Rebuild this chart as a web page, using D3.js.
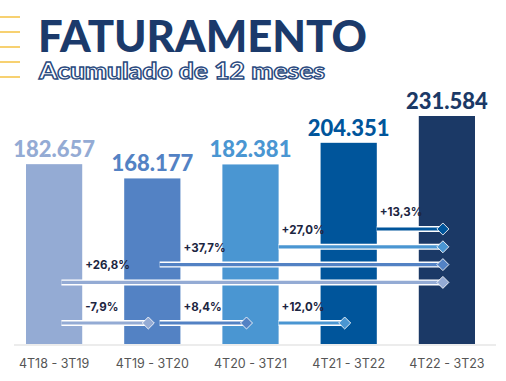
<!DOCTYPE html>
<html>
<head>
<meta charset="utf-8">
<script src="https://cdn.jsdelivr.net/npm/d3@7"></script>
<style>
  body { margin: 0; background: #fff; }
  svg { display: block; }
</style>
</head>
<body>
<svg width="506" height="381"></svg>
<script>
// data
let periods = ["4T18 - 3T19", "4T19 - 3T20", "4T20 - 3T21", "4T21 - 3T22", "4T22 - 3T23"];
let revenue = [182.657, 168.177, 182.381, 204.351, 231.584];
let valueLabels = ["182.657", "168.177", "182.381", "204.351", "231.584"];
let barColors = ["#94abd4", "#5382c4", "#4a96d2", "#00559b", "#1b3966"];

// growth vs last period (from bar -> last bar)
let longFrom = [0, 1, 2, 3];
let longLabels = ["+26,8%", "+37,7%", "+27,0%", "+13,3%"];
// growth year over year (bar -> next bar)
let shortFrom = [0, 1, 2];
let shortLabels = ["-7,9%", "+8,4%", "+12,0%"];

let svg = d3.select("svg");
let fontHeavy = "Lato, 'Open Sans', sans-serif";

// yellow lines at the left
svg.selectAll(".deco")
  .data(d3.range(5))
  .join("line")
  .attr("x1", 0).attr("x2", 20)
  .attr("y1", d => 17 + d * 15).attr("y2", d => 17 + d * 15)
  .attr("stroke", "#f5c242")
  .attr("stroke-width", 1.5);

svg.append("text")
  .attr("x", 38).attr("y", 52)
  .attr("font-family", fontHeavy)
  .attr("font-weight", 900)
  .attr("font-size", 44)
  .attr("textLength", 329)
  .attr("lengthAdjust", "spacingAndGlyphs")
  .attr("fill", "#1b3a6b")
  .text("FATURAMENTO");

svg.append("text")
  .attr("x", 39).attr("y", 79)
  .attr("font-family", fontHeavy)
  .attr("font-weight", 900)
  .attr("font-size", 22.5)
  .attr("textLength", 286)
  .attr("lengthAdjust", "spacingAndGlyphs")
  .attr("fill", "#fff")
  .attr("stroke", "#2a4a80")
  .attr("stroke-width", 1.3)
  .text("Acumulado de 12 meses");

let x = d3.scaleBand()
  .domain(periods)
  .range([26, 475])
  .paddingInner(0.4275)
  .paddingOuter(0);

let y = d3.scaleLinear()
  .domain([0, d3.max(revenue)])
  .range([344, 116]);

let bw = x.bandwidth();

// baseline
svg.append("line")
  .attr("x1", 14).attr("x2", 496)
  .attr("y1", 345).attr("y2", 345)
  .attr("stroke", "#e6e6e6")
  .attr("stroke-width", 1.5);

svg.selectAll(".bar")
  .data(revenue)
  .join("rect")
  .attr("class", "bar")
  .attr("x", (d, i) => x(periods[i]))
  .attr("y", d => y(d))
  .attr("width", bw)
  .attr("height", d => y(0) - y(d))
  .attr("fill", (d, i) => barColors[i]);

svg.selectAll(".value")
  .data(revenue)
  .join("text")
  .attr("class", "value")
  .attr("x", (d, i) => x(periods[i]) + bw / 2)
  .attr("y", d => y(d) - 7)
  .attr("text-anchor", "middle")
  .attr("font-family", fontHeavy)
  .attr("font-weight", 900)
  .attr("font-size", 22)
  .attr("fill", (d, i) => barColors[i])
  .text((d, i) => valueLabels[i]);

svg.selectAll(".cat")
  .data(periods)
  .join("text")
  .attr("class", "cat")
  .attr("x", d => x(d) + bw / 2)
  .attr("y", 368)
  .attr("text-anchor", "middle")
  .attr("font-family", "Inter, 'Open Sans', sans-serif")
  .attr("font-size", 12.5)
  .attr("fill", "#555")
  .text(d => d);

// connectors
let startX = i => x(periods[i]) + (i < 2 ? bw * 0.63 : bw);
let endX = i => x(periods[i]) + bw / 2 - 4;
let last = periods.length - 1;

let connectors = [];
longFrom.forEach((f, k) => connectors.push({
  from: f, to: last, label: longLabels[k],
  y: 229 + (last - 1 - f) * 17.8, labelDy: 13
}));
shortFrom.forEach((f, k) => connectors.push({
  from: f, to: f + 1, label: shortLabels[k],
  y: 323, labelDy: 12
}));

let conn = svg.selectAll(".conn")
  .data(connectors)
  .join("g")
  .attr("class", "conn");

conn.append("line")
  .attr("x1", d => startX(d.from))
  .attr("x2", d => endX(d.to))
  .attr("y1", d => d.y).attr("y2", d => d.y)
  .attr("stroke", "#fff")
  .attr("stroke-width", 6);

conn.append("line")
  .attr("x1", d => startX(d.from))
  .attr("x2", d => endX(d.to))
  .attr("y1", d => d.y).attr("y2", d => d.y)
  .attr("stroke", d => barColors[d.from])
  .attr("stroke-width", 3.2);

conn.append("rect")
  .attr("width", 8.5).attr("height", 8.5)
  .attr("x", -4.25).attr("y", -4.25)
  .attr("transform", d => `translate(${endX(d.to)},${d.y}) rotate(45)`)
  .attr("fill", d => barColors[d.from])
  .attr("stroke", "#fff")
  .attr("stroke-width", 0.8);

conn.append("text")
  .attr("x", d => x(periods[d.from]) + bw + 3)
  .attr("y", d => d.y - d.labelDy)
  .attr("font-family", "Inter, 'Open Sans', sans-serif")
  .attr("font-weight", 700)
  .attr("font-size", 11.5)
  .attr("fill", "#1c2541")
  .text(d => d.label);
</script>
</body>
</html>
